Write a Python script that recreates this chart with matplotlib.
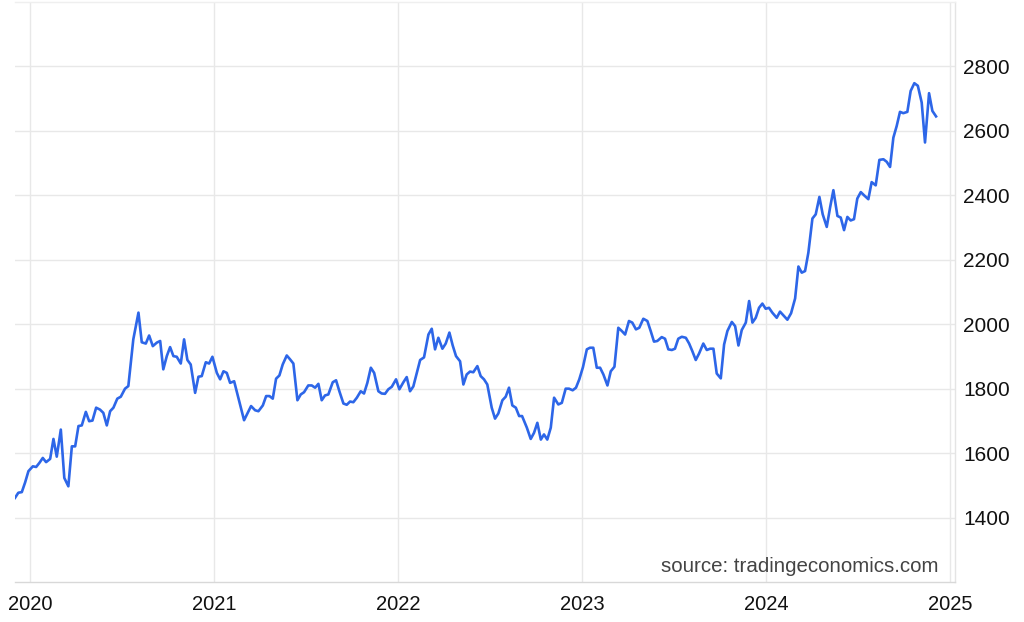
import matplotlib
matplotlib.use("Agg")
import matplotlib.pyplot as plt

# Decimal-year time stamps (weekly) and gold price values (USD/t.oz)
t = [
 2019.918, 2019.936, 2019.955, 2019.973, 2019.991, 2020.015, 2020.033, 2020.051, 2020.069, 2020.087,
 2020.109, 2020.127, 2020.145, 2020.167, 2020.186, 2020.208, 2020.227, 2020.245, 2020.263, 2020.281,
 2020.303, 2020.321, 2020.339, 2020.359, 2020.380, 2020.398, 2020.417, 2020.435, 2020.453, 2020.474,
 2020.493, 2020.516, 2020.534, 2020.561, 2020.589, 2020.607, 2020.629, 2020.647, 2020.667, 2020.689,
 2020.707, 2020.724, 2020.743, 2020.761, 2020.779, 2020.797, 2020.819, 2020.837, 2020.855, 2020.873,
 2020.897, 2020.915, 2020.933, 2020.955, 2020.973, 2020.991, 2021.015, 2021.033, 2021.051, 2021.069,
 2021.087, 2021.109, 2021.132, 2021.163, 2021.181, 2021.201, 2021.223, 2021.241, 2021.265, 2021.283,
 2021.301, 2021.319, 2021.337, 2021.355, 2021.373, 2021.395, 2021.413, 2021.431, 2021.453, 2021.471,
 2021.489, 2021.512, 2021.531, 2021.549, 2021.567, 2021.585, 2021.603, 2021.621, 2021.645, 2021.663,
 2021.681, 2021.703, 2021.721, 2021.739, 2021.757, 2021.776, 2021.797, 2021.815, 2021.833, 2021.852,
 2021.870, 2021.893, 2021.911, 2021.929, 2021.947, 2021.966, 2021.989, 2022.007, 2022.029, 2022.047,
 2022.065, 2022.083, 2022.102, 2022.120, 2022.141, 2022.165, 2022.183, 2022.201, 2022.219, 2022.241,
 2022.259, 2022.279, 2022.297, 2022.315, 2022.337, 2022.355, 2022.373, 2022.391, 2022.409, 2022.431,
 2022.449, 2022.467, 2022.485, 2022.509, 2022.527, 2022.545, 2022.567, 2022.585, 2022.603, 2022.621,
 2022.640, 2022.658, 2022.674, 2022.700, 2022.721, 2022.739, 2022.757, 2022.776, 2022.793, 2022.811,
 2022.830, 2022.848, 2022.871, 2022.890, 2022.911, 2022.929, 2022.949, 2022.967, 2022.985, 2023.005,
 2023.026, 2023.043, 2023.061, 2023.080, 2023.098, 2023.116, 2023.138, 2023.156, 2023.176, 2023.197,
 2023.216, 2023.234, 2023.255, 2023.273, 2023.293, 2023.311, 2023.333, 2023.355, 2023.373, 2023.391,
 2023.409, 2023.433, 2023.451, 2023.469, 2023.488, 2023.505, 2023.523, 2023.542, 2023.564, 2023.582,
 2023.599, 2023.618, 2023.636, 2023.659, 2023.678, 2023.696, 2023.714, 2023.732, 2023.754, 2023.772,
 2023.790, 2023.814, 2023.832, 2023.850, 2023.868, 2023.890, 2023.908, 2023.926, 2023.944, 2023.962,
 2023.980, 2023.998, 2024.016, 2024.034, 2024.058, 2024.076, 2024.098, 2024.116, 2024.136, 2024.158,
 2024.176, 2024.194, 2024.212, 2024.230, 2024.252, 2024.270, 2024.290, 2024.308, 2024.330, 2024.348,
 2024.366, 2024.388, 2024.406, 2024.424, 2024.442, 2024.460, 2024.478, 2024.496, 2024.515, 2024.533,
 2024.556, 2024.574, 2024.596, 2024.616, 2024.638, 2024.656, 2024.674, 2024.692, 2024.710, 2024.728,
 2024.746, 2024.768, 2024.786, 2024.806, 2024.825, 2024.846, 2024.864, 2024.886, 2024.904, 2024.924,
]

price = [
 1461, 1477, 1479, 1509, 1544, 1559, 1557, 1570, 1585, 1572,
 1582, 1644, 1589, 1673, 1523, 1497, 1621, 1621, 1684, 1686,
 1728, 1699, 1701, 1741, 1735, 1725, 1686, 1730, 1741, 1769,
 1775, 1800, 1808, 1953, 2036, 1944, 1940, 1965, 1932, 1943,
 1948, 1860, 1901, 1929, 1901, 1899, 1878, 1953, 1889, 1875,
 1787, 1837, 1839, 1882, 1878, 1899, 1849, 1829, 1854, 1849,
 1818, 1823, 1772, 1702, 1723, 1746, 1733, 1730, 1748, 1777,
 1777, 1769, 1831, 1841, 1875, 1903, 1891, 1878, 1764, 1782,
 1789, 1810, 1810, 1803, 1815, 1764, 1779, 1782, 1820, 1826,
 1792, 1754, 1750, 1760, 1758, 1772, 1792, 1785, 1818, 1865,
 1849, 1792, 1785, 1784, 1798, 1806, 1829, 1798, 1820, 1836,
 1792, 1807, 1849, 1889, 1897, 1968, 1986, 1922, 1958, 1924,
 1940, 1974, 1934, 1901, 1885, 1813, 1844, 1853, 1851, 1870,
 1839, 1829, 1813, 1741, 1707, 1723, 1764, 1775, 1803, 1748,
 1741, 1715, 1715, 1679, 1644, 1663, 1694, 1642, 1658, 1642,
 1679, 1772, 1751, 1756, 1800, 1800, 1795, 1803, 1829, 1867,
 1922, 1927, 1927, 1865, 1865, 1844, 1810, 1854, 1868, 1989,
 1979, 1968, 2010, 2005, 1984, 1989, 2017, 2010, 1979, 1946,
 1948, 1960, 1955, 1922, 1920, 1924, 1955, 1961, 1958, 1940,
 1917, 1889, 1909, 1940, 1920, 1924, 1924, 1847, 1832, 1937,
 1979, 2007, 1994, 1934, 1982, 2005, 2072, 2005, 2020, 2051,
 2064, 2048, 2051, 2036, 2020, 2039, 2025, 2014, 2034, 2080,
 2179, 2160, 2165, 2222, 2328, 2341, 2395, 2341, 2302, 2362,
 2416, 2336, 2331, 2292, 2333, 2322, 2326, 2390, 2410, 2400,
 2388, 2441, 2431, 2510, 2512, 2504, 2488, 2579, 2615, 2659,
 2655, 2659, 2724, 2748, 2740, 2688, 2564, 2717, 2662, 2645,
]

year_ticks = [2020, 2021, 2022, 2023, 2024, 2025]
year_labels = ["2020", "2021", "2022", "2023", "2024", "2025"]
price_ticks = [1400, 1600, 1800, 2000, 2200, 2400, 2600, 2800]
source_text = "source: tradingeconomics.com"

plt.rcParams["font.family"] = ["Liberation Sans", "DejaVu Sans"]

fig = plt.figure(figsize=(10.24, 6.22), dpi=100)
ax = fig.add_axes([15 / 1024, 1 - 582 / 622, 940 / 1024, 580 / 622])

ax.plot(t, price, color="#2d66e8", linewidth=1.9, solid_joinstyle="round", zorder=3)

ax.set_xlim(2019.918, 2025.027)
ax.set_ylim(1200, 3000)

ax.set_xticks(year_ticks)
ax.set_xticklabels(year_labels)
ax.set_yticks(price_ticks)
ax.yaxis.tick_right()

ax.grid(True, color="#e8e8e8", linewidth=1.0, zorder=0)
ax.tick_params(axis="both", length=0, colors="#111111")
ax.tick_params(axis="y", pad=6, labelsize=15)
ax.tick_params(axis="x", pad=9, labelsize=14.5)

ax.spines["left"].set_visible(False)
ax.spines["top"].set_color("#efefef")
ax.spines["right"].set_color("#e4e4e4")
ax.spines["bottom"].set_color("#d8d8d8")
for side in ["top", "right", "bottom"]:
    ax.spines[side].set_linewidth(1.0)

ax.text(0.982, 0.017, source_text, transform=ax.transAxes, ha="right",
        va="baseline", fontsize=14.8, color="#444444")

fig.savefig("out.png", dpi=100)
